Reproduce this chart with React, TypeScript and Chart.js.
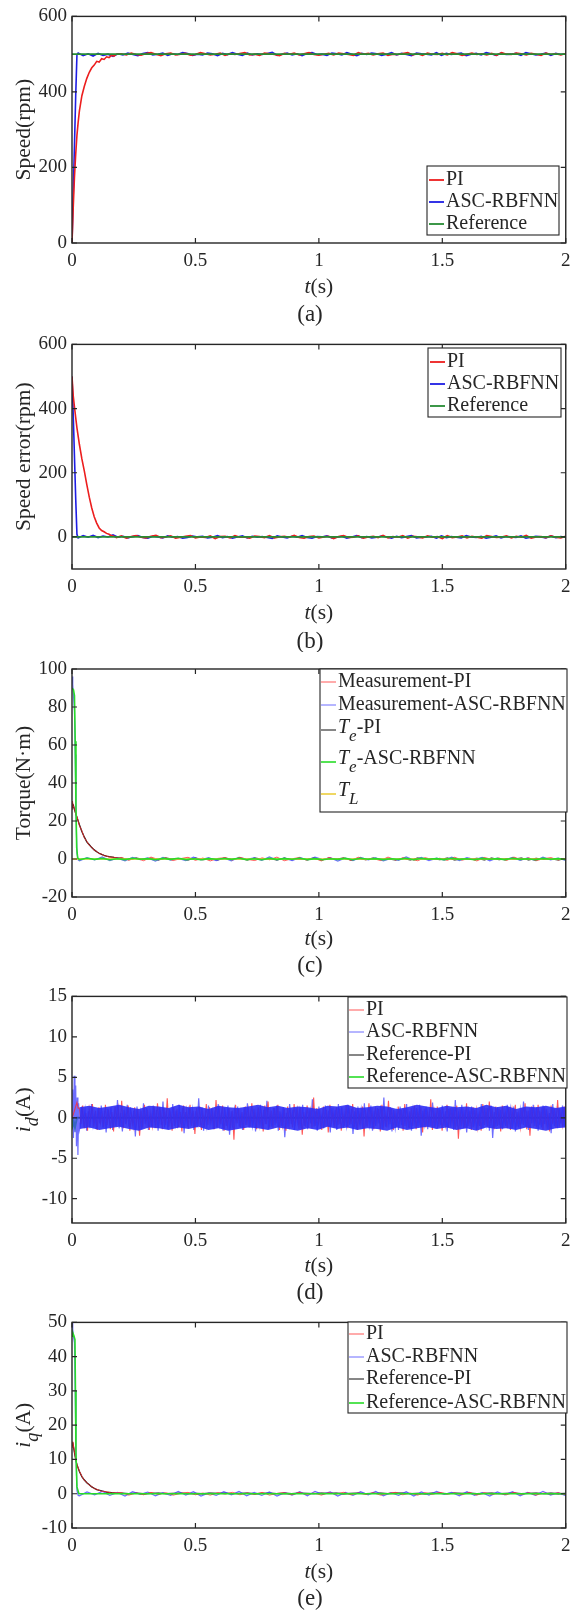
import React, { useEffect, useRef } from "react";
import { Chart, registerables } from "chart.js";
Chart.register(...registerables);

const SERIF = '"Liberation Serif", "Times New Roman", Times, serif';
const INK = "#262626";
const PAGE_W = 577;

// ---------- shared x axis ----------
const timeTicks = [0, 0.5, 1, 1.5, 2];

// ---------- (a) speed ----------
const speedTicks = [0, 200, 400, 600];
const refSpeedTimes = [0, 2];
const refSpeedValues = [500, 500];
const piSpeedTimes = [0, 0.005, 0.01, 0.015, 0.02, 0.025, 0.03, 0.04, 0.05, 0.06, 0.07, 0.08, 0.09, 0.1, 0.11, 0.12, 0.13, 0.14, 0.15, 0.16, 0.17, 0.18];
const piSpeedValues = [0, 95, 175, 235, 285, 320, 350, 390, 415, 436, 452, 464, 471, 481, 479, 488, 486, 493, 491, 497, 495, 500];
const piSpeedSteady = [
  501, 498, 503, 499, 497, 502, 504, 500, 496, 501,
  503, 498, 500, 502, 497, 499, 504, 501, 498, 500,
  503, 497, 501, 499, 502, 504, 498, 500, 497, 503,
  501, 499, 496, 502, 500, 503, 498, 501, 504, 499,
  497, 500, 502, 498, 503, 501, 499, 497, 504, 500,
  502, 498, 501, 503, 497, 500, 499, 502, 504, 498,
  501, 497, 503, 500, 499, 502, 498, 504, 501, 497,
  500, 503, 499, 501, 498, 502, 497, 504, 500, 499,
  503, 501, 498, 502, 500, 497, 503, 499, 501, 498,
  502];
const ascSpeedTimes = [0, 0.005, 0.01, 0.015, 0.02];
const ascSpeedValues = [0, 130, 260, 390, 498];
const ascSpeedSteady = [
  503, 496, 501, 495, 502, 497, 500, 494, 501, 498,
  503, 499, 496, 502, 504, 498, 500, 503, 497, 501,
  499, 504, 502, 497, 500, 498, 503, 501, 496, 502,
  499, 504, 500, 497, 503, 498, 501, 499, 502, 505,
  497, 500, 503, 498, 501, 496, 502, 504, 499, 500,
  497, 503, 501, 498, 504, 500, 496, 502, 499, 503,
  501, 497, 500, 504, 498, 502, 499, 496, 503, 501,
  500, 498, 504, 497, 502, 499, 501, 503, 496, 500,
  502, 498, 504, 501, 497, 503, 499, 500, 502, 497,
  504, 501, 498, 500, 503, 497, 502, 499, 501];

// ---------- (b) speed error ----------
const errTicks = [0, 200, 400, 600];
const refErrTimes = [0, 2];
const refErrValues = [0, 0];
const piErrTimes = [0, 0.005, 0.01, 0.015, 0.02, 0.03, 0.04, 0.05, 0.06, 0.07, 0.08, 0.09, 0.1, 0.11, 0.12, 0.13, 0.14, 0.15, 0.16, 0.17];
const piErrValues = [500, 440, 405, 372, 340, 288, 243, 205, 163, 124, 90, 63, 43, 28, 20, 16, 11, 8, 4, 2];
const piErrSteady = [
  -2, 3, -4, 1, 4, -1, -3, 2, 5, -2,
  0, 3, -4, -1, 2, 4, -3, 0, -2, 3,
  -5, 1, 2, -3, 4, -1, 0, -4, 3, 1,
  -2, 4, -3, 0, 2, -1, 5, -2, -4, 1,
  3, -3, 0, 2, -5, 1, 4, -2, -1, 3,
  -4, 0, 2, -2, 5, -3, 1, -1, 4, -4,
  2, 0, -3, 3, -1, 1, -5, 4, -2, 0,
  3, -3, 2, -1, -4, 4, 1, -2, 0, 3,
  -3, 2, -1, 5, -4, 0, 1, -2, 3, -1,
  -3, 2];
const ascErrTimes = [0, 0.005, 0.01, 0.015, 0.02];
const ascErrValues = [500, 380, 250, 120, 8];
const ascErrSteady = [
  -3, 4, -1, 5, -2, 3, 0, 6, -1, 2,
  -3, 1, 4, -2, -4, 2, 0, -3, 3, -1,
  1, -4, -2, 3, 0, 2, -3, -1, 4, -2,
  1, -4, 0, 3, -3, 2, -1, 1, -2, -5,
  3, 0, -3, 2, -1, 4, -2, -4, 1, 0,
  3, -3, -1, 2, -4, 0, 4, -2, 1, -3,
  -1, 3, 0, -4, 2, -2, 1, 4, -3, -1,
  0, 2, -4, 3, -2, 1, -1, -3, 4, 0,
  -2, 2, -4, -1, 3, -3, 1, 0, -2, 3,
  -4, -1, 2, 0, -3, 3, -2, 1, -1];

// ---------- (c) torque ----------
const torqueTicks = [-20, 0, 20, 40, 60, 80, 100];
const piTorqueTimes = [0, 0.002, 0.005, 0.01, 0.015, 0.02, 0.03, 0.04, 0.05, 0.06, 0.07, 0.08, 0.09, 0.1, 0.11, 0.12, 0.13, 0.14, 0.15, 0.17, 0.19];
const measPiTorqueValues = [26, 30.5, 28, 26.5, 23.5, 22.4, 17.6, 14.8, 11.2, 9.3, 7.2, 6.2, 4.6, 4, 2.8, 2.6, 1.7, 1.6, 1.0, 0.9, 0.4];
const tePiTorqueValues = [27, 29, 28.5, 26, 24, 22, 18, 14.5, 11.5, 9, 7.5, 6, 4.8, 3.8, 3, 2.4, 1.9, 1.5, 1.2, 0.8, 0.5];
const measPiTorqueSteady = [
  0.8, -0.6, 0.4, -0.9, 1.0, -0.3, 0.6, -0.8, 0.2, 0.9,
  -0.7, 0.5, -1.0, 0.3, 0.7, -0.5, 0.9, -0.2, -0.8, 0.6,
  -0.4, 1.0, -0.9, 0.1, 0.7, -0.6, 0.4, -1.0, 0.8, -0.2,
  0.5, -0.7, 0.9, -0.4, 0.2, -0.8, 1.0, -0.5, 0.6, -0.1,
  -0.9, 0.7, -0.3, 0.4, -0.7, 0.9, -0.6, 0.3, -1.0, 0.8,
  -0.2, 0.5, -0.8, 1.0, -0.4, 0.6, -0.9, 0.2, 0.7, -0.5,
  0.4];
const tePiTorqueSteady = [
  0.4, -0.3, 0.5, -0.2, 0.3, -0.4, 0.5, -0.1, 0.2, -0.5,
  0.4, -0.3, 0.1, -0.4, 0.5, -0.2, 0.3, -0.5, 0.4, -0.1,
  0.2, -0.4, 0.5, -0.3, 0.1, -0.2, 0.4, -0.5, 0.3, -0.1,
  0.5, -0.4, 0.2, -0.3, 0.4, -0.2, 0.1, -0.5, 0.3, -0.4,
  0.5, -0.1, 0.2, -0.3, 0.4, -0.5, 0.1, -0.2, 0.3, -0.4,
  0.5, -0.3, 0.2, -0.1, 0.4, -0.5, 0.3, -0.2, 0.1, -0.4,
  0.2];
const measAscTorqueTimes = [0, 0.003, 0.006, 0.01, 0.013, 0.016, 0.02, 0.025];
const measAscTorqueValues = [96, 92, 86, 78, 55, 25, 3, -0.5];
const measAscTorqueSteady = [
  -0.9, 0.7, -0.5, 1.1, -0.8, 0.4, -1.0, 0.9, -0.3, 0.6,
  -1.1, 0.8, -0.6, 0.3, -0.9, 1.0, -0.4, 0.7, -0.8, 0.5,
  -1.0, 0.9, -0.2, 0.6, -0.7, 1.1, -0.5, 0.4, -0.9, 0.8,
  -0.6, 1.0, -0.3, 0.7, -1.1, 0.5, -0.8, 0.9, -0.4, 0.6,
  -1.0, 0.3, -0.7, 1.1, -0.5, 0.8, -0.9, 0.4, -0.6, 1.0,
  -0.8, 0.7, -0.3, 0.9, -1.0, 0.5, -0.4, 0.8, -0.7, 0.6,
  -0.9, 1.0, -0.5, 0.4, -0.8];
const teAscTorqueTimes = [0, 0.003, 0.006, 0.01, 0.013, 0.016, 0.019, 0.023, 0.028];
const teAscTorqueValues = [90, 90, 89, 86, 62, 28, 6, 0.5, 0];
const teAscTorqueSteady = [
  -0.3, 0.4, -0.2, 0.3, -0.4, 0.1, -0.3, 0.4, -0.1, 0.2,
  -0.4, 0.3, -0.2, 0.4, -0.3, 0.1, -0.4, 0.2, -0.1, 0.3,
  -0.2, 0.4, -0.3, 0.1, -0.4, 0.3, -0.2, 0.2, -0.1, 0.4,
  -0.3, 0.2, -0.4, 0.1, -0.2, 0.3, -0.4, 0.4, -0.1, 0.2,
  -0.3, 0.1, -0.2, 0.4, -0.4, 0.3, -0.1, 0.2, -0.3, 0.4,
  -0.2, 0.1, -0.4, 0.3, -0.1, 0.2, -0.3, 0.4, -0.2, 0.1,
  -0.4, 0.3, -0.1, 0.2, -0.3];
const loadTorqueTimes = [0, 2];
const loadTorqueValues = [0, 0];

// ---------- (d) i_d ----------
const idTicks = [-10, -5, 0, 5, 10, 15];
const piIdTimes = [0, 0.005, 0.01, 0.015, 0.02, 0.025];
const piIdValues = [0, 0.4, 0.9, 1.4, 1.9, 1.2];
const piIdSteady = [
  1.2, -0.8, 1.5, -1.3, 0.6, -1.6, 1.1, -0.4, 1.7, -1.1, 0.9, -1.5, 1.3, -0.7, 0.5, -1.2, 1.6, -0.9, 1.0, -1.4,
  0.7, -1.7, 1.4, -0.6, 1.2, -1.0, 2.1, -1.3, 0.8, -0.5, 1.5, -1.6, 0.4, -1.1, 1.3, -0.8, 1.1, -2.2, 0.9, -1.2,
  1.6, -0.7, 1.0, -1.5, 0.6, -1.0, 1.4, -1.3, 1.8, -0.6, 0.8, -1.4, 1.2, -0.9, 2.4, -1.1, 0.5, -1.6, 1.3, -0.8,
  1.1, -1.2, 0.7, -1.7, 1.5, -0.5, 1.0, -1.3, 1.6, -1.0, 0.9, -2.0, 1.2, -0.7, 1.4, -1.5, 0.6, -1.1, 1.7, -0.9,
  1.3, -0.6, 0.8, -1.4, 2.2, -1.2, 1.0, -0.8, 1.5, -1.6, 0.5, -1.0, 1.2, -1.3, 0.9, -2.7, 1.6, -0.7, 1.1, -1.2,
  0.7, -1.5, 1.4, -0.9, 1.0, -1.1, 1.8, -0.6, 0.8, -1.4, 1.3, -1.0, 0.6, -1.7, 1.5, -0.8, 2.0, -1.2, 0.9, -1.3,
  1.2, -0.7, 1.6, -1.5, 0.5, -1.0, 1.1, -1.6, 1.4, -0.9, 0.8, -1.2, 1.7, -0.6, 1.0, -1.4, 1.3, -2.1, 0.7, -1.1,
  1.5, -0.8, 0.9, -1.3, 2.5, -1.0, 1.2, -0.7, 0.6, -1.5, 1.4, -1.1, 1.0, -1.8, 1.6, -0.6, 0.8, -1.2, 1.3, -0.9,
  1.1, -1.6, 0.7, -1.0, 1.5, -1.3, 0.9, -0.8, 1.7, -1.2, 1.2, -1.5, 0.6, -0.9, 1.4, -2.3, 1.0, -1.1, 1.8, -0.7,
  0.8, -1.4, 1.3, -0.6, 1.1, -1.7, 1.6, -1.0, 0.5, -1.2, 2.1, -0.8, 1.2, -1.5, 0.9, -1.1, 1.4, -0.7, 1.0, -1.6,
  1.7, -0.9, 0.6, -1.3, 1.2, -1.0, 1.5, -1.4, 0.8, -0.6, 1.3, -1.8, 1.1, -1.2, 0.7, -1.0, 2.3, -1.5, 0.9, -0.8,
  1.4, -1.1, 1.0, -1.6, 0.6, -0.9, 1.6, -1.2, 1.2, -0.7, 0.9, -1.4, 1.5, -2.6, 1.1, -0.8, 0.7, -1.3, 1.8, -1.0,
  0.9, -1.5, 1.3, -0.7, 1.0, -1.2, 0.6, -1.6, 1.7, -0.9, 1.2, -1.1, 2.0, -0.6, 0.8, -1.4, 1.4, -1.0, 1.1, -1.7,
  1.5, -0.8, 0.7, -1.3, 1.3, -1.5, 1.0, -0.6, 1.6, -1.1, 0.5, -1.2, 1.2, -0.9, 1.8, -1.4, 0.9, -2.2, 1.4, -0.7,
  1.0, -1.2, 1.6, -0.9, 0.8, -1.5, 1.3, -1.0, 0.6, -1.7, 1.5, -0.8, 1.1, -1.3, 2.2, -1.1, 0.7, -0.9, 1.4, -1.4];
const ascIdTimes = [0, 0.003, 0.006, 0.009, 0.012, 0.015, 0.018, 0.021, 0.024, 0.027, 0.03];
const ascIdValues = [0, 3.5, -2.5, 5.2, -1.8, 4.0, -3.5, 2.5, -4.6, 1.8, -1.5];
const ascIdSteady = [
  -1.1, 1.4, -0.6, 1.0, -1.6, 0.8, -1.3, 1.7, -0.9, 0.5, -1.4, 1.2, -0.7, 1.5, -1.2, 0.9, -1.8, 1.1, -0.5, 1.3,
  -1.5, 0.7, -1.0, 2.2, -1.3, 0.6, -1.7, 1.0, -0.8, 1.6, -1.1, 1.3, -0.6, 0.9, -2.3, 1.4, -1.0, 0.7, -1.4, 1.8,
  -0.8, 1.2, -1.5, 0.6, -1.1, 1.5, -0.7, 1.0, -1.6, 1.3, -0.9, 2.0, -1.2, 0.8, -1.4, 1.1, -0.6, 1.7, -1.0, 0.9,
  -1.3, 1.6, -0.8, 1.2, -1.9, 0.7, -1.1, 1.4, -0.6, 1.0, -1.5, 0.8, -1.2, 2.4, -0.9, 1.3, -1.6, 0.6, -1.0, 1.5,
  -0.7, 1.1, -1.4, 0.9, -1.2, 1.7, -0.8, 0.6, -1.6, 1.2, -1.0, 1.5, -2.1, 0.8, -1.3, 1.0, -0.6, 1.4, -1.1, 0.7,
  -1.5, 1.3, -0.9, 1.8, -1.2, 0.6, -1.0, 1.1, -1.7, 0.9, -0.7, 1.6, -1.3, 1.0, -0.8, 2.1, -1.4, 0.7, -1.1, 1.2,
  -0.9, 1.5, -1.6, 0.8, -1.0, 1.3, -2.4, 0.6, -1.2, 1.7, -0.8, 1.0, -1.5, 1.2, -0.6, 0.9, -1.3, 1.6, -1.0, 0.7,
  -1.4, 1.1, -0.7, 2.3, -1.1, 0.8, -1.6, 1.4, -0.9, 0.6, -1.3, 1.5, -1.0, 0.9, -1.8, 1.2, -0.7, 1.0, -1.5, 1.7,
  -0.8, 1.3, -1.2, 0.6, -1.0, 1.6, -0.9, 1.1, -2.0, 0.8, -1.4, 1.4, -0.6, 1.0, -1.3, 1.8, -1.1, 0.7, -0.9, 1.5,
  -1.6, 0.9, -1.0, 1.2, -0.7, 1.5, -1.4, 2.5, -1.1, 0.7, -0.8, 1.3, -1.7, 1.0, -1.2, 0.6, -1.5, 1.4, -0.9, 1.1,
  -1.0, 1.7, -1.3, 0.8, -1.6, 1.0, -0.6, 1.2, -1.1, 1.6, -2.2, 0.9, -0.8, 1.4, -1.4, 0.7, -1.0, 1.9, -1.2, 0.6,
  -1.3, 1.2, -0.9, 1.5, -1.0, 0.8, -1.7, 1.1, -0.7, 1.3, -1.5, 2.2, -1.1, 0.6, -0.9, 1.6, -1.3, 1.0, -1.8, 0.8,
  -0.7, 1.4, -1.2, 1.0, -1.5, 0.6, -1.0, 1.7, -1.3, 0.9, -0.8, 1.2, -1.6, 1.5, -2.5, 0.7, -1.1, 1.3, -0.9, 1.0,
  -1.4, 0.8, -1.0, 1.6, -0.6, 1.1, -1.3, 1.4, -1.7, 0.7, -1.2, 1.0, -0.8, 2.0, -1.1, 0.9, -1.5, 1.2, -0.7, 1.6,
  -1.0, 1.3, -1.6, 0.9, -1.2, 1.5, -0.8, 1.1, -1.4, 0.6, -1.9, 1.7, -1.0, 0.8, -1.3, 1.2, -0.7, 1.5, -1.1, 0.9];
// dense core of the i_d noise band (upper / lower envelope)
const idBandUpper = [1.3, 1.5, 1.2, 1.4, 1.6, 1.3, 1.1, 1.5, 1.4, 1.2, 1.6, 1.3, 1.4, 1.1, 1.5, 1.3, 1.2, 1.4, 1.6, 1.3, 1.5, 1.2, 1.4, 1.3, 1.1, 1.5, 1.4, 1.6, 1.2, 1.3, 1.5, 1.4, 1.1, 1.3, 1.6, 1.4, 1.2, 1.5, 1.3, 1.4, 1.2, 1.6, 1.3, 1.5, 1.1, 1.4, 1.3, 1.5, 1.2, 1.4];
const idBandLower = [-1.4, -1.2, -1.5, -1.3, -1.1, -1.4, -1.6, -1.2, -1.3, -1.5, -1.2, -1.4, -1.1, -1.5, -1.3, -1.6, -1.4, -1.2, -1.3, -1.5, -1.2, -1.4, -1.6, -1.3, -1.5, -1.1, -1.4, -1.2, -1.5, -1.3, -1.4, -1.6, -1.2, -1.5, -1.3, -1.1, -1.4, -1.2, -1.5, -1.3, -1.6, -1.2, -1.4, -1.3, -1.5, -1.2, -1.4, -1.6, -1.3, -1.2];
const refPiIdTimes = [0, 2];
const refPiIdValues = [0, 0];
const refAscIdTimes = [0, 0.003, 0.008, 0.012, 0.02, 2];
const refAscIdValues = [0, -1.0, -0.6, -1.2, 0, 0];

// ---------- (e) i_q ----------
const iqTicks = [-10, 0, 10, 20, 30, 40, 50];
const piIqTimes = [0, 0.003, 0.01, 0.015, 0.02, 0.03, 0.04, 0.05, 0.06, 0.07, 0.08, 0.09, 0.1, 0.12, 0.14, 0.16, 0.18];
const piIqValues = [13.5, 15.2, 12.2, 10.1, 8.5, 6.6, 5.1, 3.9, 3.3, 2.5, 2.1, 1.5, 1.3, 0.7, 0.6, 0.2, 0.3];
const refPiIqValues = [14, 15, 12, 10, 8.5, 6.5, 5, 4, 3.2, 2.6, 2, 1.6, 1.2, 0.8, 0.5, 0.3, 0.2];
const piIqSteady = [
  0.3, -0.4, 0.2, -0.3, 0.4, -0.2, 0.3, -0.4, 0.1, 0.4,
  -0.3, 0.2, -0.4, 0.3, -0.1, 0.4, -0.3, 0.2, -0.2, 0.4,
  -0.4, 0.1, 0.3, -0.3, 0.4, -0.2, 0.2, -0.4, 0.3, -0.1,
  0.4, -0.3, 0.2, -0.2, 0.3, -0.4, 0.1, 0.4, -0.3, 0.2,
  -0.4, 0.3, -0.2, 0.4, -0.1, 0.2, -0.3, 0.4, -0.4, 0.3,
  -0.2, 0.1, -0.3, 0.4, -0.2, 0.3, -0.4, 0.2, -0.1, 0.3,
  -0.3];
const refPiIqSteady = [
  0.15, 0.05, 0.2, 0.0, 0.1, 0.18, 0.02, 0.12, 0.2, 0.05,
  0.1, 0.0, 0.16, 0.08, 0.2, 0.03, 0.12, 0.18, 0.0, 0.1,
  0.2, 0.06, 0.14, 0.0, 0.18, 0.1, 0.04, 0.2, 0.08, 0.15,
  0.0, 0.12, 0.2, 0.05, 0.1, 0.18, 0.02, 0.14, 0.2, 0.06,
  0.1, 0.0, 0.18, 0.12, 0.04, 0.2, 0.08, 0.15, 0.0, 0.1,
  0.2, 0.05, 0.12, 0.18, 0.02, 0.1, 0.2, 0.06, 0.14, 0.0,
  0.1];
const ascIqTimes = [0, 0.003, 0.006, 0.01, 0.013, 0.016, 0.02, 0.025];
const ascIqValues = [50, 48, 46, 44, 30, 12, 1, -0.5];
const ascIqSteady = [
  -0.6, 0.5, -0.3, 0.7, -0.5, 0.4, -0.7, 0.6, -0.2, 0.5,
  -0.6, 0.3, -0.5, 0.7, -0.4, 0.6, -0.7, 0.2, -0.5, 0.6,
  -0.3, 0.7, -0.6, 0.4, -0.5, 0.5, -0.7, 0.3, -0.4, 0.6,
  -0.6, 0.7, -0.2, 0.5, -0.7, 0.4, -0.5, 0.6, -0.3, 0.7,
  -0.6, 0.3, -0.5, 0.6, -0.7, 0.5, -0.4, 0.7, -0.2, 0.4,
  -0.6, 0.6, -0.5, 0.3, -0.7, 0.5, -0.3, 0.6, -0.6, 0.4,
  -0.5, 0.7, -0.4, 0.3, -0.6];
const refAscIqTimes = [0, 0.003, 0.008, 0.012, 0.014, 0.016, 0.02, 0.028, 2];
const refAscIqValues = [46, 47, 46, 45, 30, 12, 2, 0, 0];

// ---------- helpers ----------
type Pt = { x: number; y: number };
function pts(times: number[], values: number[]): Pt[] {
  return times.map((t, i) => ({ x: t, y: values[i] }));
}
function spaced(t0: number, t1: number, values: number[]): Pt[] {
  const n = values.length;
  return values.map((v, i) => ({ x: t0 + ((t1 - t0) * i) / (n - 1), y: v }));
}

const RED = "rgb(236,30,30)";
const BLUE = "rgb(30,30,228)";
const DKGREEN = "rgb(38,140,52)";
const MRED = "rgba(255,45,45,0.8)";
const MBLUE = "rgba(60,60,255,0.75)";
const BANDBLUE = "rgba(45,45,245,0.9)";
const BLACK = "rgb(15,15,15)";
const LGREEN = "rgb(40,220,40)";
const YELLOW = "rgb(236,206,60)";

type Run = { t: string; i?: boolean; s?: boolean };
type LegendEntry = { runs: Run[]; color: string; width: number; y: number; lineDy?: number };
type DS = { data: Pt[]; color: string; width: number; fill?: any; bg?: string };
type Panel = {
  canvasTop: number; canvasHeight: number; plotTop: number; plotBottom: number;
  yMin: number; yMax: number; yTicks: number[];
  yTitle: Run[]; caption: string; xTitleY: number; captionY: number;
  legendBox: [number, number, number, number]; sampleX: [number, number]; textX: number;
  legend: LegendEntry[]; datasets: DS[];
};

const PLOT_LEFT = 72;
const PLOT_RIGHT = 567;

const panels: Panel[] = [
  {
    canvasTop: 0, canvasHeight: 328, plotTop: 15, plotBottom: 243,
    yMin: 0, yMax: 600, yTicks: speedTicks,
    yTitle: [{ t: "Speed(rpm)" }], caption: "(a)", xTitleY: 287, captionY: 315,
    legendBox: [427, 166, 559, 235], sampleX: [429, 444], textX: 446,
    legend: [
      { runs: [{ t: "PI" }], color: RED, width: 1.8, y: 180 },
      { runs: [{ t: "ASC-RBFNN" }], color: BLUE, width: 1.8, y: 202 },
      { runs: [{ t: "Reference" }], color: DKGREEN, width: 1.8, y: 224 },
    ],
    datasets: [
      { data: pts(refSpeedTimes, refSpeedValues), color: DKGREEN, width: 1.6 },
      { data: pts(piSpeedTimes, piSpeedValues).concat(spaced(0.2, 2, piSpeedSteady)), color: RED, width: 1.6 },
      { data: pts(ascSpeedTimes, ascSpeedValues).concat(spaced(0.025, 2, ascSpeedSteady)), color: BLUE, width: 1.6 },
    ],
  },
  {
    canvasTop: 328, canvasHeight: 324, plotTop: 342, plotBottom: 569,
    yMin: -100, yMax: 600, yTicks: errTicks,
    yTitle: [{ t: "Speed error(rpm)" }], caption: "(b)", xTitleY: 613, captionY: 642,
    legendBox: [428, 348, 561, 417], sampleX: [430, 445], textX: 447,
    legend: [
      { runs: [{ t: "PI" }], color: RED, width: 1.8, y: 362 },
      { runs: [{ t: "ASC-RBFNN" }], color: BLUE, width: 1.8, y: 384 },
      { runs: [{ t: "Reference" }], color: DKGREEN, width: 1.8, y: 406 },
    ],
    datasets: [
      { data: pts(refErrTimes, refErrValues), color: DKGREEN, width: 1.6 },
      { data: pts(piErrTimes, piErrValues).concat(spaced(0.18, 2, piErrSteady)), color: RED, width: 1.6 },
      { data: pts(ascErrTimes, ascErrValues).concat(spaced(0.025, 2, ascErrSteady)), color: BLUE, width: 1.6 },
    ],
  },
  {
    canvasTop: 652, canvasHeight: 328, plotTop: 669, plotBottom: 897,
    yMin: -20, yMax: 100, yTicks: torqueTicks,
    yTitle: [{ t: "Torque(N·m)" }], caption: "(c)", xTitleY: 939, captionY: 966,
    legendBox: [320, 669, 567, 812], sampleX: [321, 336], textX: 338,
    legend: [
      { runs: [{ t: "Measurement-PI" }], color: MRED, width: 1, y: 682 },
      { runs: [{ t: "Measurement-ASC-RBFNN" }], color: MBLUE, width: 1, y: 705 },
      { runs: [{ t: "T", i: true }, { t: "e", i: true, s: true }, { t: "-PI" }], color: BLACK, width: 1, y: 728, lineDy: 2 },
      { runs: [{ t: "T", i: true }, { t: "e", i: true, s: true }, { t: "-ASC-RBFNN" }], color: LGREEN, width: 1.6, y: 759, lineDy: 3 },
      { runs: [{ t: "T", i: true }, { t: "L", i: true, s: true }], color: YELLOW, width: 1.6, y: 791, lineDy: 3 },
    ],
    datasets: [
      { data: pts(teAscTorqueTimes, teAscTorqueValues).concat(spaced(0.03, 2, teAscTorqueSteady)), color: LGREEN, width: 1.6 },
      { data: pts(loadTorqueTimes, loadTorqueValues), color: YELLOW, width: 1.6 },
      { data: pts(piTorqueTimes, measPiTorqueValues).concat(spaced(0.2, 2, measPiTorqueSteady)), color: MRED, width: 1 },
      { data: pts(measAscTorqueTimes, measAscTorqueValues).concat(spaced(0.03, 2, measAscTorqueSteady)), color: MBLUE, width: 1.2 },
      { data: pts(piTorqueTimes, tePiTorqueValues).concat(spaced(0.2, 2, tePiTorqueSteady)), color: BLACK, width: 1.3 },
    ],
  },
  {
    canvasTop: 980, canvasHeight: 326, plotTop: 996, plotBottom: 1223,
    yMin: -13, yMax: 15, yTicks: idTicks,
    yTitle: [{ t: "i", i: true }, { t: "d", i: true, s: true }, { t: "(A)" }], caption: "(d)", xTitleY: 1266, captionY: 1293,
    legendBox: [348, 997, 567, 1088], sampleX: [349, 364], textX: 366,
    legend: [
      { runs: [{ t: "PI" }], color: MRED, width: 1, y: 1010 },
      { runs: [{ t: "ASC-RBFNN" }], color: MBLUE, width: 1, y: 1032 },
      { runs: [{ t: "Reference-PI" }], color: BLACK, width: 1, y: 1055 },
      { runs: [{ t: "Reference-ASC-RBFNN" }], color: LGREEN, width: 1.6, y: 1077 },
    ],
    datasets: [
      { data: spaced(0.03, 2, idBandUpper), color: "rgba(0,0,0,0)", width: 0, fill: "+1", bg: BANDBLUE },
      { data: spaced(0.03, 2, idBandLower), color: "rgba(0,0,0,0)", width: 0 },
      { data: pts(piIdTimes, piIdValues).concat(spaced(0.03, 2, piIdSteady)), color: MRED, width: 1.1 },
      { data: pts(ascIdTimes, ascIdValues).concat(spaced(0.033, 2, ascIdSteady)), color: MBLUE, width: 1.2 },
      { data: pts(refPiIdTimes, refPiIdValues), color: BLACK, width: 1 },
      { data: pts(refAscIdTimes, refAscIdValues), color: LGREEN, width: 2 },
    ],
  },
  {
    canvasTop: 1306, canvasHeight: 305, plotTop: 1322, plotBottom: 1528,
    yMin: -10, yMax: 50, yTicks: iqTicks,
    yTitle: [{ t: "i", i: true }, { t: "q", i: true, s: true }, { t: "(A)" }], caption: "(e)", xTitleY: 1572, captionY: 1599,
    legendBox: [348, 1322, 567, 1413], sampleX: [349, 364], textX: 366,
    legend: [
      { runs: [{ t: "PI" }], color: MRED, width: 1, y: 1334 },
      { runs: [{ t: "ASC-RBFNN" }], color: MBLUE, width: 1, y: 1357 },
      { runs: [{ t: "Reference-PI" }], color: BLACK, width: 1, y: 1379 },
      { runs: [{ t: "Reference-ASC-RBFNN" }], color: LGREEN, width: 1.6, y: 1403 },
    ],
    datasets: [
      { data: pts(refAscIqTimes, refAscIqValues), color: LGREEN, width: 1.6 },
      { data: pts(piIqTimes, piIqValues).concat(spaced(0.2, 2, piIqSteady)), color: MRED, width: 1 },
      { data: pts(ascIqTimes, ascIqValues).concat(spaced(0.03, 2, ascIqSteady)), color: MBLUE, width: 1.2 },
      { data: pts(piIqTimes, refPiIqValues).concat(spaced(0.2, 2, refPiIqSteady)), color: BLACK, width: 1.3 },
    ],
  },
];

// ---------- text drawing ----------
const TICK_SIZE = 19;
const LEGEND_SIZE = 20;
const TITLE_SIZE = 21.5;
const CAPTION_SIZE = 23;

function measureRuns(ctx: CanvasRenderingContext2D, runs: Run[], size: number) {
  return runs.map((r) => {
    const sz = r.s ? size * 0.85 : size;
    const font = `${r.i ? "italic " : ""}${sz}px ${SERIF}`;
    ctx.font = font;
    return { r, font, w: ctx.measureText(r.t).width, dy: r.s ? size * 0.42 : 0 };
  });
}
function drawRuns(ctx: CanvasRenderingContext2D, runs: Run[], x: number, y: number, size: number, center: boolean) {
  const segs = measureRuns(ctx, runs, size);
  const total = segs.reduce((a, s) => a + s.w, 0);
  let cx = center ? x - total / 2 : x;
  ctx.textBaseline = "middle";
  ctx.textAlign = "left";
  for (const s of segs) {
    ctx.font = s.font;
    ctx.fillText(s.r.t, cx, y + s.dy);
    cx += s.w;
  }
}

function decor(p: Panel) {
  return {
    id: "matlabDecor",
    afterDraw(chart: any) {
      const ctx: CanvasRenderingContext2D = chart.ctx;
      const ca = chart.chartArea;
      const xs = chart.scales.x;
      const ys = chart.scales.y;
      const off = p.canvasTop;
      ctx.save();
      ctx.strokeStyle = INK;
      ctx.lineWidth = 1.4;
      ctx.strokeRect(ca.left, ca.top, ca.right - ca.left, ca.bottom - ca.top);
      ctx.lineWidth = 1.2;
      ctx.beginPath();
      for (const v of timeTicks) {
        const px = xs.getPixelForValue(v);
        ctx.moveTo(px, ca.bottom); ctx.lineTo(px, ca.bottom - 5);
        ctx.moveTo(px, ca.top); ctx.lineTo(px, ca.top + 5);
      }
      for (const v of p.yTicks) {
        const py = ys.getPixelForValue(v);
        ctx.moveTo(ca.left, py); ctx.lineTo(ca.left + 5, py);
        ctx.moveTo(ca.right, py); ctx.lineTo(ca.right - 5, py);
      }
      ctx.stroke();

      ctx.fillStyle = INK;
      drawRuns(ctx, [{ t: "t", i: true }, { t: "(s)" }], (ca.left + ca.right) / 2, p.xTitleY - off, TITLE_SIZE, true);
      drawRuns(ctx, [{ t: p.caption }], 310, p.captionY - off, CAPTION_SIZE, true);
      ctx.save();
      ctx.translate(24, (ca.top + ca.bottom) / 2);
      ctx.rotate(-Math.PI / 2);
      drawRuns(ctx, p.yTitle, 0, 0, TITLE_SIZE, true);
      ctx.restore();

      const [bx0, by0, bx1, by1] = p.legendBox;
      ctx.fillStyle = "#ffffff";
      ctx.fillRect(bx0, by0 - off, bx1 - bx0, by1 - by0);
      ctx.strokeStyle = INK;
      ctx.lineWidth = 1.1;
      ctx.strokeRect(bx0, by0 - off, bx1 - bx0, by1 - by0);
      for (const e of p.legend) {
        const ly = e.y - off + (e.lineDy || 0);
        ctx.strokeStyle = e.color;
        ctx.lineWidth = e.width;
        ctx.beginPath();
        ctx.moveTo(p.sampleX[0], ly);
        ctx.lineTo(p.sampleX[1], ly);
        ctx.stroke();
        ctx.fillStyle = INK;
        drawRuns(ctx, e.runs, p.textX, e.y - off, LEGEND_SIZE, false);
      }
      ctx.restore();
    },
  };
}

function PanelChart({ p }: { p: Panel }) {
  const ref = useRef<HTMLCanvasElement>(null);
  useEffect(() => {
    const canvas = ref.current;
    if (!canvas) return;
    const tickFont = { family: SERIF, size: TICK_SIZE };
    const chart = new Chart(canvas, {
      type: "line",
      data: {
        datasets: p.datasets.map((d) => ({
          data: d.data,
          borderColor: d.color,
          borderWidth: d.width,
          backgroundColor: d.bg || "rgba(0,0,0,0)",
          pointRadius: 0,
          tension: 0,
          fill: d.fill !== undefined ? d.fill : false,
        })),
      },
      options: {
        animation: false,
        responsive: false,
        maintainAspectRatio: false,
        devicePixelRatio: 1,
        parsing: false,
        events: [],
        layout: { padding: { left: 0, right: PAGE_W - PLOT_RIGHT, top: p.plotTop - p.canvasTop, bottom: 0 } },
        plugins: { legend: { display: false }, tooltip: { enabled: false } },
        scales: {
          x: {
            type: "linear",
            min: 0,
            max: 2,
            afterBuildTicks: (s: any) => { s.ticks = timeTicks.map((v) => ({ value: v })); },
            afterFit: (s: any) => { s.height = p.canvasTop + p.canvasHeight - p.plotBottom; },
            ticks: { font: tickFont, color: INK, padding: 6.5, maxRotation: 0, autoSkip: false, callback: (v: any) => String(v) },
            grid: { display: false, drawTicks: false },
            border: { display: false },
          },
          y: {
            type: "linear",
            min: p.yMin,
            max: p.yMax,
            afterBuildTicks: (s: any) => { s.ticks = p.yTicks.map((v) => ({ value: v })); },
            afterFit: (s: any) => { s.width = PLOT_LEFT; },
            ticks: { font: tickFont, color: INK, padding: 5, autoSkip: false, callback: (v: any) => String(v) },
            grid: { display: false, drawTicks: false },
            border: { display: false },
          },
        },
      } as any,
      plugins: [decor(p)],
    });
    return () => chart.destroy();
  }, [p]);
  return (
    <canvas
      ref={ref}
      width={PAGE_W}
      height={p.canvasHeight}
      style={{ position: "absolute", left: 0, top: p.canvasTop, display: "block" }}
    />
  );
}

export default function App() {
  return (
    <div style={{ position: "absolute", left: 0, top: 0, width: PAGE_W, height: 1611, background: "#ffffff" }}>
      {panels.map((p, i) => (
        <PanelChart key={i} p={p} />
      ))}
    </div>
  );
}
